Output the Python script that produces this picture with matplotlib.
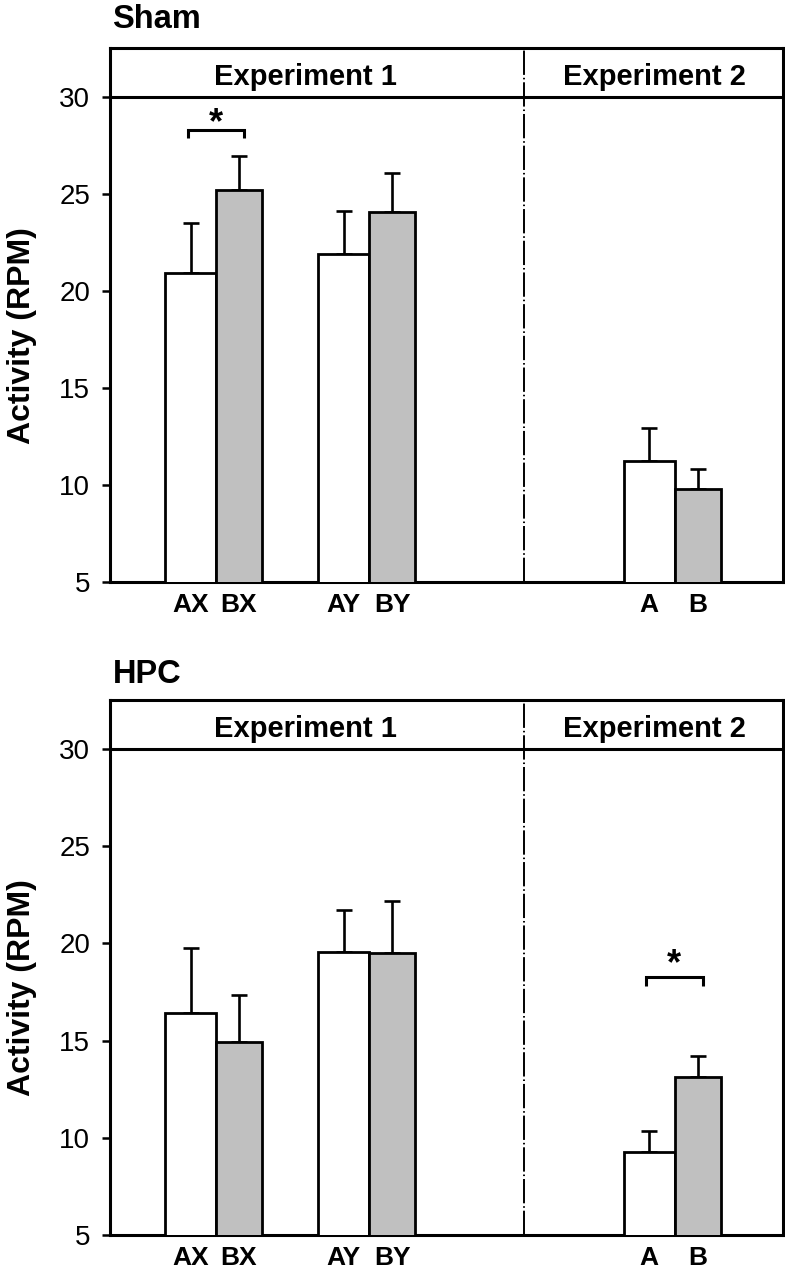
import numpy as np
import matplotlib
matplotlib.use("Agg")
import matplotlib.pyplot as plt

plt.rcParams['font.family'] = ['Liberation Sans', 'DejaVu Sans']

# ---- data ----
categories = ["AX", "BX", "AY", "BY", "A", "B"]
sham_mean = [20.94, 25.24, 21.90, 24.09, 11.24, 9.78]
sham_sem = [2.58, 1.73, 2.24, 2.03, 1.68, 1.04]
hpc_mean = [16.43, 14.92, 19.54, 19.49, 9.26, 13.14]
hpc_sem = [3.36, 2.41, 2.19, 2.72, 1.09, 1.08]
panel_titles = ["Sham", "HPC"]
header_labels = ["Experiment 1", "Experiment 2"]
yticks = [5, 10, 15, 20, 25, 30]
ylabel = "Activity (RPM)"

# ---- layout (horizontal units ~ pixels inside the axes) ----
XMAX = 673.0
group_left = [55.0, 208.0, 513.5]
w_white, w_gray = 51.0, 46.0
divider_x = 414.3
header_x = [195.0, 544.5]
YMIN, YMAX = 5, 32.53

lefts, widths, colors = [], [], []
for g in group_left:
    lefts += [g, g + w_white]
    widths += [w_white, w_gray]
    colors += ["white", "#c0c0c0"]
centers = [l + w / 2 for l, w in zip(lefts, widths)]

fig = plt.figure(figsize=(7.85, 12.79), dpi=100)
W, H = 785.0, 1279.0
ax_specs = [
    # left, right, top, bottom in pixels
    (110, 783, 48.3, 582.0),
    (110, 783, 700.0, 1235.0),
]
panels = [
    (sham_mean, sham_sem, (0, 1), 28.32, 0.43, 28.86, 20.0),
    (hpc_mean, hpc_sem, (4, 5), 18.29, 0.48, 19.10, 16.7),
]

SPINE_LW = 2.2
for (l, r, t, b), title, (mean, sem, sig, br_y, br_leg, star_y, title_off) in zip(
        ax_specs, panel_titles, panels):
    ax = fig.add_axes([l / W, 1 - b / H, (r - l) / W, (b - t) / H])
    ax.set_xlim(0, XMAX)
    ax.set_ylim(YMIN, YMAX)
    ax.bar(lefts, mean, width=widths, align='edge', color=colors,
           edgecolor='black', linewidth=2.0, zorder=3)
    ax.errorbar(centers, mean, yerr=[np.zeros(len(sem)), sem], fmt='none',
                ecolor='black', elinewidth=1.9, capsize=5.8, capthick=1.9,
                zorder=2)
    # header line and divider
    ax.axhline(30, color='black', linewidth=SPINE_LW, zorder=4)
    ax.axvline(divider_x, color='black', linewidth=1.4,
               linestyle=(0, (12.5, 1.5, 0.8, 1.5)), zorder=4)
    for hx, lab in zip(header_x, header_labels):
        ax.text(hx, 30.65, lab, ha='center', va='baseline',
                fontsize=21, fontweight='bold')
    # significance bracket
    x1 = centers[sig[0]] - 3
    x2 = centers[sig[1]] + 5
    ax.plot([x1, x1, x2, x2], [br_y - br_leg, br_y, br_y, br_y - br_leg],
            color='black', linewidth=2.2, solid_capstyle='butt',
            solid_joinstyle='miter', zorder=5)
    ax.text((x1 + x2) / 2, star_y, "*", ha='center', va='center_baseline',
            fontsize=26, fontweight='bold')
    # axes styling
    for s in ax.spines.values():
        s.set_linewidth(SPINE_LW)
    ax.set_yticks(yticks)
    ax.set_yticklabels([str(v) for v in yticks])
    ax.tick_params(axis='y', direction='out', length=5.8, width=1.8,
                   labelsize=20, pad=8.5)
    ax.set_xticks(centers)
    ax.set_xticklabels(categories, fontsize=19, fontweight='bold')
    ax.tick_params(axis='x', length=0, pad=8)
    # y label
    ax.text((30 - l) / (r - l), 0.462, ylabel, transform=ax.transAxes,
            rotation=90, rotation_mode='anchor', ha='center', va='baseline',
            fontsize=23, fontweight='bold')
    # panel title
    ax.text(2.5 / (r - l), 1 + title_off / (b - t), title,
            transform=ax.transAxes, ha='left', va='baseline',
            fontsize=23.5, fontweight='bold')

fig.savefig("out.png", dpi=100)
